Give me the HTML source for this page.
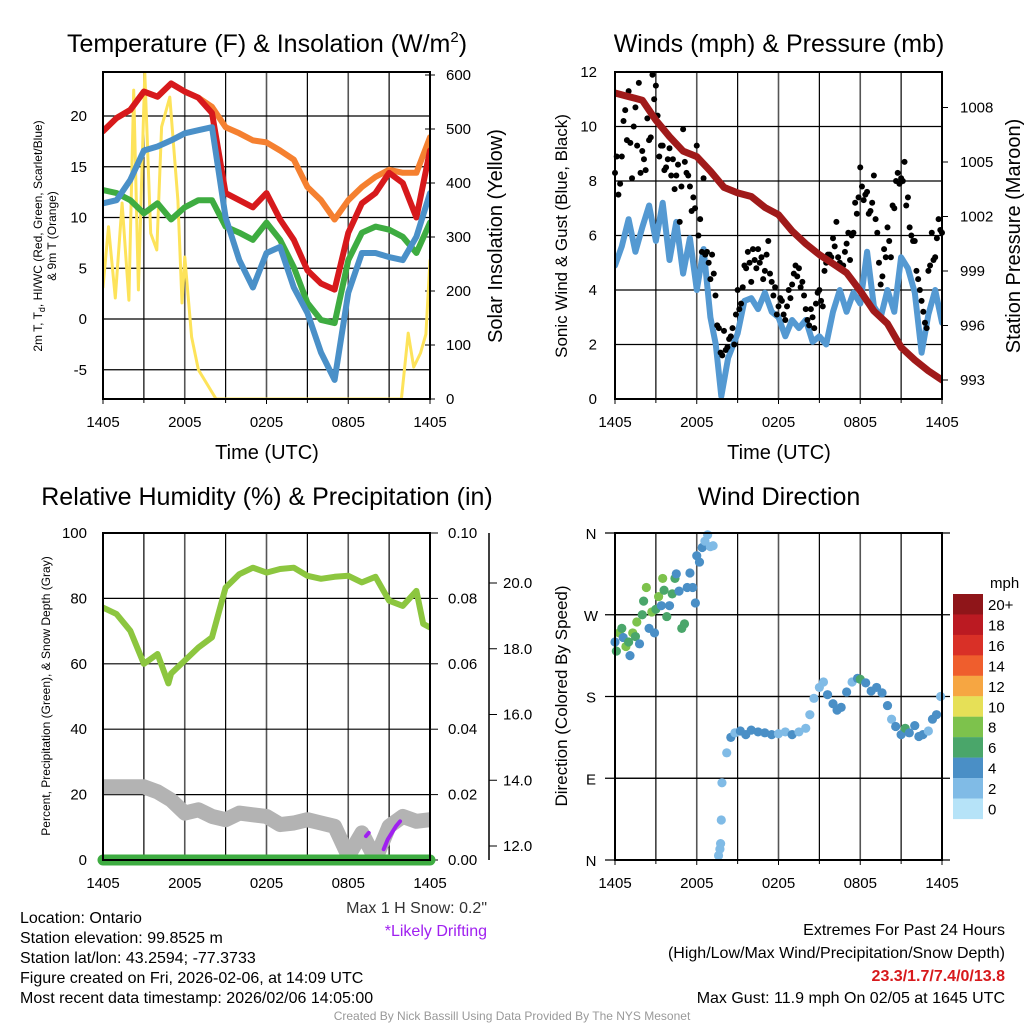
<!DOCTYPE html>
<html><head><meta charset="utf-8"><style>
html,body{margin:0;padding:0;background:#fff}
svg{display:block;font-family:"Liberation Sans",sans-serif}
</style></head><body>
<svg id="chart" width="1024" height="1024" viewBox="0 0 1024 1024" xmlns="http://www.w3.org/2000/svg">
<rect width="1024" height="1024" fill="#fff"/>
<g font-size="25" text-anchor="middle" fill="#000">
<text x="267" y="52">Temperature (F) &amp; Insolation (W/m<tspan font-size="15" dy="-10">2</tspan><tspan dy="10">)</tspan></text>
<text x="779" y="52">Winds (mph) &amp; Pressure (mb)</text>
<text x="267" y="505">Relative Humidity (%) &amp; Precipitation (in)</text>
<text x="779" y="505">Wind Direction</text>
</g>
<g font-size="20" text-anchor="middle">
<text x="267" y="459">Time (UTC)</text>
<text x="779" y="459">Time (UTC)</text>
<text transform="translate(502,236) rotate(-90)">Solar Insolation (Yellow)</text>
<text transform="translate(567,236) rotate(-90)" font-size="17">Sonic Wind &amp; Gust (Blue, Black)</text>
<text transform="translate(1020,236) rotate(-90)">Station Pressure (Maroon)</text>
<text transform="translate(567,696) rotate(-90)" font-size="17">Direction (Colored By Speed)</text>
<text transform="translate(42,236) rotate(-90)" font-size="12">2m T, T<tspan font-size="9" dy="3">d</tspan><tspan dy="-3">, HI/WC (Red, Green, Scarlet/Blue)</tspan></text>
<text transform="translate(56,236) rotate(-90)" font-size="12">&amp; 9m T (Orange)</text>
<text transform="translate(50,696) rotate(-90)" font-size="12">Percent, Precipitation (Green), &amp; Snow Depth (Gray)</text>
</g>
<g id="plots"></g>
<g font-size="16" fill="#000">
<text x="20" y="923">Location: Ontario</text>
<text x="20" y="943">Station elevation: 99.8525 m</text>
<text x="20" y="963">Station lat/lon: 43.2594; -77.3733</text>
<text x="20" y="983">Figure created on Fri, 2026-02-06, at 14:09 UTC</text>
<text x="20" y="1003">Most recent data timestamp: 2026/02/06 14:05:00</text>
<text x="487" y="913" text-anchor="end" fill="#333">Max 1 H Snow: 0.2"</text>
<text x="487" y="936" text-anchor="end" fill="#a020f0">*Likely Drifting</text>
<text x="1005" y="935" text-anchor="end">Extremes For Past 24 Hours</text>
<text x="1005" y="958" text-anchor="end">(High/Low/Max Wind/Precipitation/Snow Depth)</text>
<text x="1005" y="981" text-anchor="end" fill="#d7191c" font-weight="bold">23.3/1.7/7.4/0/13.8</text>
<text x="1005" y="1003" text-anchor="end">Max Gust: 11.9 mph On 02/05 at 1645 UTC</text>
<text x="512" y="1020" text-anchor="middle" font-size="12" fill="#999">Created By Nick Bassill Using Data Provided By The NYS Mesonet</text>
</g>
</svg>
<script>
// ---------- data ----------
const hours = [0,1,2,3,4,5,6,7,8,9,10,11,12,13,14,15,16,17,18,19,20,21,22,23,24];
const xTickLabels = ["1405","2005","0205","0805","1405"];
const tempRed = [18.5,19.8,20.6,22.4,21.9,23.2,22.4,21.8,20.3,12.4,11.7,11.0,12.4,9.8,7.8,4.8,3.5,2.9,8.5,11.4,12.4,14.4,13.4,10.0,16.6];
const tempOrange = [18.5,19.8,20.6,22.4,21.9,23.2,22.4,21.8,20.9,18.9,18.3,17.6,17.4,16.6,15.7,13.0,11.7,9.8,11.7,13.0,14.0,14.7,14.4,14.4,17.9];
const tempGreen = [12.7,12.4,11.7,10.4,11.4,9.8,11.0,11.7,11.7,9.1,8.5,7.8,9.5,7.8,5.1,1.6,-0.1,-0.4,5.8,8.5,9.1,8.8,8.1,6.5,9.5];
const tempBlue = [11.4,11.7,13.7,16.6,17.0,17.6,18.3,18.6,18.9,10.0,5.8,3.1,6.5,7.1,3.1,0.6,-3.3,-6.0,2.6,6.5,6.5,6.1,5.8,8.1,12.4];
const tempTicks = [-5,0,5,10,15,20];
const solarTimes = [0,0.4,0.9,1.4,1.9,2.25,2.6,3.07,3.5,3.95,4.3,4.9,5.5,5.8,6.0,6.5,7.0,8.3,21.9,22.4,22.8,23.3,23.7,24];
const solarVals = [207,319,187,363,183,572,202,604,307,276,504,559,368,178,263,115,54,0,0,122,59,85,120,257];
const solarTicks = [0,100,200,300,400,500,600];
const windTimes = [0,0.5,1,1.5,2,2.5,3,3.5,4,4.5,5,5.5,6,6.5,7,7.4,7.8,8.3,9,9.5,10,10.5,11,11.5,12,12.5,13,13.5,14,14.5,15,15.5,16,16.5,17,17.5,18,18.5,19,19.5,20,20.5,21,21.5,22,22.5,23,23.5,24];
const windVals = [4.9,5.6,6.6,5.4,6.3,7.1,5.8,7.2,5.1,6.5,4.6,5.9,4.0,5.5,3.0,2.0,0.1,1.5,2.4,3.6,3.7,3.3,3.9,3.2,3.0,2.3,2.9,2.6,2.9,2.1,2.3,2.0,3.2,4.0,3.2,3.9,3.5,5.4,3.4,3.0,4.0,3.2,5.2,4.8,3.9,1.7,3.1,4.0,2.8];
const gustA = [8.3,7.5,8.9,10.6,11.3,8.1,10.7,11.6,9.1,8.4,9.5,11.9,11.5,8.9,9.3,8.5,9.2,8.8,8.2,6.5,9.9,8.3,7.8,7.4,9.3,6.6,8.1,5.4,4.4,4.6,2.7,1.7,2.5,1.9,2.3,2.0,4.0,3.5,4.9,5.4,4.3,5.1,5.5,5.2,4.7,5.8,4.3,4.1,3.4,3.6,2.9,4.0,4.2,4.9,4.8,4.3,3.3,2.7,3.0,3.5,4.0,3.4,5.0,5.3,5.9,6.5,5.0,4.9,5.7,5.1,6.1,6.8,8.5,7.3,7.6,6.9,8.2,6.1,4.2,5.5,6.3,5.2,7.0,8.3,8.1,8.7,7.4,6.0,5.8,4.4,3.6,2.8,4.7,6.1,5.2,6.6,6.1];
const gustB = [8.9,7.9,10.2,9.5,9.4,10.0,9.3,8.3,8.8,10.3,9.6,11.0,10.4,9.3,8.4,8.8,8.2,7.7,8.6,7.8,8.7,8.2,6.9,7.0,6.0,5.4,5.3,5.0,5.3,3.8,2.6,1.6,1.8,2.2,2.6,3.1,3.3,4.1,4.8,5.0,5.5,4.8,5.0,4.4,5.3,4.6,3.8,3.1,3.7,3.1,3.4,3.7,4.6,4.5,4.1,3.8,2.9,3.3,2.6,3.9,3.6,4.7,5.3,5.2,5.6,5.2,4.8,5.4,6.1,6.0,7.2,7.4,7.8,7.5,6.8,7.2,6.6,5.0,4.5,5.2,5.8,7.1,8.0,7.9,8.0,7.1,6.3,5.8,4.7,4.0,3.2,2.6,4.9,5.1,5.9,6.2];
const windTicks = [0,2,4,6,8,10,12];
const pressure = [1008.8,1008.6,1008.4,1007.3,1006.4,1005.6,1005.3,1004.5,1003.6,1003.3,1003.1,1002.5,1002.1,1001.2,1000.5,999.9,999.4,998.9,997.9,996.8,996.1,994.8,994.1,993.5,993.0];
const pressTicks = [993,996,999,1002,1005,1008];
const rhTimes = [0,1,2,3,3.5,4,4.8,5,6,7,8,9,10,11,12,13,14,15,16,17,18,19,20,21,22,23,23.5,24];
const rhVals = [77.2,75.2,70.1,60.0,61.5,63.0,54.0,57.0,61.0,65.0,68.1,83.3,87.4,89.4,87.9,89.0,89.4,86.9,86.0,86.6,86.9,84.9,86.6,79.3,77.7,82.3,72.2,71.1];
const snowDepth = [13.8,13.8,13.8,13.8,13.65,13.4,13.0,13.1,12.9,12.8,13.0,12.95,12.9,12.65,12.7,12.8,12.7,12.6,11.7,12.4,11.6,12.6,12.9,12.75,12.8];
const precipVals = [0,0,0,0,0,0,0,0,0,0,0,0,0,0,0,0,0,0,0,0,0,0,0,0,0];
const driftTimes = [19.3,19.5,20.6,20.9,21.2,21.5,21.8];
const driftVals = [12.3,12.4,11.9,12.2,12.4,12.6,12.75];
const rhTicks = [0,20,40,60,80,100];
const precipTicks = ["0.00","0.02","0.04","0.06","0.08","0.10"];
const snowTicks = [12,14,16,18,20];
const dirTimes = [0,0.1,0.3,0.5,0.6,0.8,1.0,1.1,1.3,1.5,1.6,1.8,2.0,2.1,2.3,2.5,2.7,2.9,3.0,3.2,3.4,3.5,3.6,3.8,4.0,4.2,4.4,4.5,4.7,4.9,5.1,5.3,5.5,5.7,5.9,6.0,6.2,6.4,6.6,6.8,7.0,7.2,7.6,7.7,7.75,7.8,7.85,8.2,8.5,8.8,9.2,9.6,10.0,10.5,11.0,11.5,12.0,12.5,13.0,13.5,14.0,14.3,14.6,15.0,15.3,15.6,16.0,16.3,16.6,17.0,17.4,17.8,18.0,18.4,18.8,19.2,19.6,20.0,20.3,20.6,21.0,21.3,21.6,22.0,22.3,22.6,23.0,23.3,23.6,23.9];
const dirVals = [240,230,250,255,245,235,240,225,250,246,262,238,270,285,300,255,273,250,276,290,280,310,297,268,280,293,310,315,296,255,260,300,316,300,283,335,328,344,351,358,345,346,5,12,18,44,85,118,135,140,142,138,143,141,140,138,139,141,138,141,145,160,178,190,196,182,172,165,168,185,196,200,199,195,186,190,184,170,155,147,138,145,140,148,136,138,142,155,160,180];
const dirSpeeds = [4,6,7,6,4,7,6,4,7,5,7,4,6,5,7,4,7,4,6,7,4,7,5,6,4,5,6,3,4,5,6,4,3,4,3,3,4,3,2,2,1,2,1,1,1,1,1,2,3,2,3,4,3,4,4,3,2,2,3,2,2,2,2,2,2,3,4,4,4,3,2,4,6,4,3,4,3,3,2,4,4,6,4,3,4,3,2,3,3,2];
const speedLabels = ["20+","18","16","14","12","10","8","6","4","2","0"];
const dirLabels = ["N","E","S","W","N"];
</script>
<script>
const NS = "http://www.w3.org/2000/svg";
const root = document.getElementById("plots");
function mk(tag, attrs, parent) {
  const e = document.createElementNS(NS, tag);
  for (const k in attrs) e.setAttribute(k, attrs[k]);
  (parent || root).appendChild(e);
  return e;
}
function scale(d0, d1, r0, r1) { return v => r0 + (v - d0) / (d1 - d0) * (r1 - r0); }
const colorBins = ["#b6e3f8","#80bbe6","#4a8fc6","#4aa66a","#7dc24c","#e6e057","#f6a642","#ef5e2d","#d93027","#bb1a22","#8f1519"];
const P = {
  t: {x0:103, x1:430, y0:72, y1:399},
  w: {x0:615, x1:942, y0:72, y1:399},
  r: {x0:103, x1:430, y0:533, y1:860},
  d: {x0:615, x1:942, y0:533, y1:860}
};
function frame(p, name, hLines) {
  const g = mk("g", {});
  
  
  const xs = scale(0, 24, p.x0, p.x1);
  for (let h = 3; h < 24; h += 3) {
    const ln = mk("line", {x1: xs(h), x2: xs(h), y1: p.y0, y2: p.y1, stroke: (h % 6 === 0) ? "#555" : "#000", "stroke-width": (h % 6 === 0) ? 1.6 : 1.2}, g);
    
    
  }
  hLines.forEach(y => {
    const ln = mk("line", {x1: p.x0, x2: p.x1, y1: y, y2: y, stroke: "#000", "stroke-width": 1.2}, g);
    
    
  });
  xTickLabels.forEach((s, i) => {
    const t = mk("text", {x: xs(i * 6), y: p.y1 + 28, "font-size": 15, "text-anchor": "middle"}, g);
    t.textContent = s;
    
    
    const tk = mk("line", {x1: xs(i * 6), x2: xs(i * 6), y1: p.y1, y2: p.y1 + 5, stroke: "#000"}, g);
    
    
  });
  for (let h = 3; h < 24; h += 6) {
    const tk = mk("line", {x1: xs(h), x2: xs(h), y1: p.y1, y2: p.y1 + 4, stroke: "#000"}, g);
    
    
  }
}
function border(p, name) {
  const r = mk("rect", {x: p.x0, y: p.y0, width: p.x1 - p.x0, height: p.y1 - p.y0, fill: "none", stroke: "#000", "stroke-width": 2});
  
  
}
function pathD(xsArr, ysArr, xf, yf) {
  return xsArr.map((x, i) => (i ? "L" : "M") + xf(x).toFixed(1) + "," + yf(ysArr[i]).toFixed(1)).join("");
}
function line(name, d, color, w, clip) {
  const a = {d: d, fill: "none", stroke: color, "stroke-width": w, "stroke-linejoin": "round", "stroke-linecap": "round"};
  if (clip) a["clip-path"] = "url(#" + clip + ")";
  const e = mk("path", a);
  
  
  return e;
}
function clipFor(id, p) {
  const defs = mk("defs", {});
  const cp = mk("clipPath", {id: id}, defs);
  mk("rect", {x: p.x0, y: p.y0, width: p.x1 - p.x0, height: p.y1 - p.y0}, cp);
}

// ===== Panel 1: temperature =====
(function () {
  const p = P.t;
  const xs = scale(0, 24, p.x0, p.x1);
  const yT = scale(0, 10, 319, 217.5);
  const yS = scale(0, 600, 399, 75);
  clipFor("clipT", p);
  frame(p, "temp", tempTicks.map(yT));
  tempTicks.forEach(v => {
    const t = mk("text", {x: 87, y: yT(v) + 5, "font-size": 15, "text-anchor": "end"});
    t.textContent = v;
    
    
  });
  solarTicks.forEach(v => {
    const t = mk("text", {x: 446, y: yS(v) + 5, "font-size": 15});
    t.textContent = v;
    
    
    const tk = mk("line", {x1: p.x1 - 5, x2: p.x1 + 5, y1: yS(v), y2: yS(v), stroke: "#000"});
    
    
  });
  line("solar-insolation-line", pathD(solarTimes, solarVals, xs, yS), "#fde35a", 3, "clipT");
  line("temp-9m-orange-line", pathD(hours, tempOrange, xs, yT), "#f58030", 6, "clipT");
  line("temp-2m-red-line", pathD(hours, tempRed, xs, yT), "#d7191c", 6, "clipT");
  line("dewpoint-green-line", pathD(hours, tempGreen, xs, yT), "#3eac41", 6, "clipT");
  line("windchill-blue-line", pathD(hours, tempBlue, xs, yT), "#4a90c8", 6, "clipT");
  border(p, "temp");
})();

// ===== Panel 2: winds & pressure =====
(function () {
  const p = P.w;
  const xs = scale(0, 24, p.x0, p.x1);
  const yW = scale(0, 12, 399, 72);
  const yP = scale(993, 1008, 380, 107.5);
  clipFor("clipW", p);
  frame(p, "wind", windTicks.map(yW));
  windTicks.forEach(v => {
    const t = mk("text", {x: 597, y: yW(v) + 5, "font-size": 15, "text-anchor": "end"});
    t.textContent = v;
    
    
  });
  pressTicks.forEach(v => {
    const t = mk("text", {x: 960, y: yP(v) + 5, "font-size": 15});
    t.textContent = v;
    
    
    const tk = mk("line", {x1: p.x1, x2: p.x1 + 6, y1: yP(v), y2: yP(v), stroke: "#000"});
    
    
  });
  line("sonic-wind-line", pathD(windTimes, windVals, xs, yW), "#5499d2", 6, "clipW");
  const gg = mk("g", {});
  
  
  gustA.forEach((v, i) => {
    const c = mk("circle", {cx: xs(i * 0.25), cy: yW(v), r: 3, fill: "#000"}, gg);
    
    
  });
  gustB.forEach((v, i) => {
    const c = mk("circle", {cx: xs(0.125 + i * 0.25), cy: yW(v), r: 3, fill: "#000"}, gg);
    
    
  });
  line("pressure-line", pathD(hours, pressure, xs, yP), "#a01a1a", 7, "clipW");
  border(p, "wind");
})();

// ===== Panel 3: RH / precip / snow =====
(function () {
  const p = P.r;
  const xs = scale(0, 24, p.x0, p.x1);
  const yR = scale(0, 100, 860, 533);
  const ySn = scale(12, 20, 846, 583);
  clipFor("clipR", p);
  frame(p, "rh", rhTicks.map(yR));
  rhTicks.forEach(v => {
    const t = mk("text", {x: 87, y: yR(v) + 5, "font-size": 15, "text-anchor": "end"});
    t.textContent = v;
    
    
  });
  precipTicks.forEach((s, i) => {
    const y = yR(i * 20);
    const t = mk("text", {x: 448, y: y + 5, "font-size": 15});
    t.textContent = s;
    
    
    const tk = mk("line", {x1: p.x1, x2: p.x1 + 8, y1: y, y2: y, stroke: "#000"});
    
    
  });
  const ax = mk("line", {x1: 489, x2: 489, y1: 533, y2: 860, stroke: "#000", "stroke-width": 1.5});
  
  
  snowTicks.forEach(v => {
    const y = ySn(v);
    const tk = mk("line", {x1: 489, x2: 497, y1: y, y2: y, stroke: "#000"});
    
    
    const t = mk("text", {x: 503, y: y + 5, "font-size": 15});
    t.textContent = v.toFixed(1);
    
    
  });
  line("snow-depth-line", pathD(hours, snowDepth, xs, ySn), "#b3b3b3", 15, "clipR");
  line("precip-line", pathD(hours, precipVals, xs, v => yR(v * 1000)), "#3eac41", 11);
  const dd = driftTimes.map(xs), dy = driftVals.map(ySn);
  line("drifting-segment-1", "M" + dd[0] + "," + dy[0] + "L" + dd[1] + "," + dy[1], "#a020f0", 4);
  line("drifting-segment-2", dd.slice(2).map((x, i) => (i ? "L" : "M") + x + "," + dy[i + 2]).join(""), "#a020f0", 4);
  line("relative-humidity-line", pathD(rhTimes, rhVals, xs, yR), "#8cc63f", 6, "clipR");
  border(p, "rh");
})();

// ===== Panel 4: wind direction =====
(function () {
  const p = P.d;
  const xs = scale(0, 24, p.x0, p.x1);
  const yD = scale(0, 360, 860, 533);
  frame(p, "dir", [90, 180, 270].map(yD));
  dirLabels.forEach((s, i) => {
    const y = yD(i * 90);
    const t = mk("text", {x: 591, y: y + 6, "font-size": 15, "text-anchor": "middle"});
    t.textContent = s;
    
    
    const tk = mk("line", {x1: 605, x2: p.x1 + 8, y1: y, y2: y, stroke: "#000", "stroke-width": 1.2});
    
    
  });
  const gd = mk("g", {});
  
  
  dirTimes.forEach((h, i) => {
    const bin = Math.min(10, Math.round(dirSpeeds[i] / 2));
    const c = mk("circle", {cx: xs(h), cy: yD(dirVals[i]), r: 4.6, fill: colorBins[bin]}, gd);
    
    
  });
  border(p, "dir");
  const cb = mk("g", {});
  
  
  speedLabels.forEach((s, i) => {
    const y = 594 + i * 20.45;
    const r = mk("rect", {x: 953, y: y, width: 30, height: 20.6, fill: colorBins[10 - i]}, cb);
    
    
    const t = mk("text", {x: 988, y: y + 16, "font-size": 15}, cb);
    t.textContent = s;
    
    
  });
  const mt = mk("text", {x: 990, y: 588, "font-size": 15}, cb);
  mt.textContent = "mph";
  
  
})();
</script>
</body></html>
